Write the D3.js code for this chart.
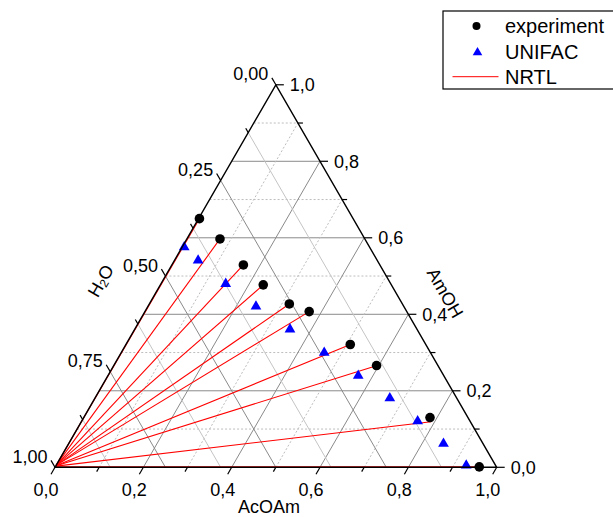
<!DOCTYPE html>
<html>
<head>
<meta charset="utf-8">
<script src="https://cdn.jsdelivr.net/npm/d3@7/dist/d3.min.js"></script>
<style>
  html, body { margin: 0; padding: 0; background: #fff; }
  svg text { font-family: "Liberation Sans", Arial, sans-serif; fill: #000; }
</style>
</head>
<body>
<svg id="chart" width="613" height="517"></svg>
<script>
// ---- data (mole fractions: AcOAm, AmOH; H2O = 1 - AcOAm - AmOH) ----
const expAcOAm = [0.002, 0.075, 0.162, 0.233, 0.317, 0.372, 0.508, 0.595, 0.784, 0.960];
const expAmOH  = [0.650, 0.597, 0.529, 0.477, 0.427, 0.407, 0.321, 0.266, 0.130, 0.001];

const unifacAcOAm = [0.004, 0.053, 0.146, 0.244, 0.351, 0.459, 0.566, 0.667, 0.760, 0.848, 0.928];
const unifacAmOH  = [0.577, 0.542, 0.481, 0.422, 0.362, 0.301, 0.241, 0.182, 0.122, 0.063, 0.006];

// NRTL tie lines: organic phase end and aqueous phase end
const nrtlOrgAcOAm = [0.002, 0.075, 0.162, 0.233, 0.317, 0.372, 0.506, 0.592, 0.792, 0.960];
const nrtlOrgAmOH  = [0.650, 0.597, 0.529, 0.477, 0.427, 0.407, 0.320, 0.264, 0.119, 0.001];
const nrtlAqAcOAm  = [0.000, 0.000, 0.000, 0.000, 0.000, 0.000, 0.000, 0.001, 0.001, 0.001];
const nrtlAqAmOH   = [0.005, 0.005, 0.005, 0.005, 0.005, 0.005, 0.004, 0.004, 0.003, 0.001];

const bottomTicks = [0, 0.2, 0.4, 0.6, 0.8, 1.0];
const bottomTickLabels = ["0,0", "0,2", "0,4", "0,6", "0,8", "1,0"];
const rightTicks = [0, 0.2, 0.4, 0.6, 0.8, 1.0];
const rightTickLabels = ["0,0", "0,2", "0,4", "0,6", "0,8", "1,0"];
const leftTicks = [0, 0.25, 0.5, 0.75, 1.0];
const leftTickLabels = ["0,00", "0,25", "0,50", "0,75", "1,00"];

const legendLabels = ["experiment", "UNIFAC", "NRTL"];

// ---- geometry ----
const x0 = 55, yBase = 467.3, W = 441.7;
const H = W * Math.sqrt(3) / 2;
const sx = d3.scaleLinear().domain([0, 1]).range([0, W]);          // horizontal extent
const sy = d3.scaleLinear().domain([0, 1]).range([yBase, yBase - H]); // AmOH -> y
function P(a, b) { return [x0 + sx(a) + sx(b) / 2, sy(b)]; }   // a = AcOAm, b = AmOH

const svg = d3.select("#chart");
const gGrid = svg.append("g");
const dirs = {
  acoam: [-0.5, Math.sqrt(3) / 2],   // bottom ticks (down-left)
  amoh: [1, 0],                        // right ticks
  h2o: [-0.5, -Math.sqrt(3) / 2]      // left ticks (up-left)
};

function line(g, p1, p2, stroke, width, dash) {
  const l = g.append("line").attr("x1", p1[0]).attr("y1", p1[1]).attr("x2", p2[0]).attr("y2", p2[1])
    .attr("stroke", stroke).attr("stroke-width", width);
  if (dash) l.attr("stroke-dasharray", dash);
  return l;
}

// grid: AmOH constant (horizontal)
d3.range(1, 10).forEach(i => {
  const v = i / 10;
  const major = i % 2 === 0;
  line(gGrid, P(0, v), P(1 - v, v), major ? "#8a8a8a" : "#bdbdbd", 1, major ? null : "2,2");
});
// grid: AcOAm constant (parallel to left edge)
d3.range(1, 10).forEach(i => {
  const v = i / 10;
  const major = i % 2 === 0;
  line(gGrid, P(v, 0), P(v, 1 - v), major ? "#8a8a8a" : "#bdbdbd", 1, major ? null : "2,2");
});
// grid: H2O constant (parallel to right edge)
d3.range(1, 8).forEach(i => {
  const v = i / 8;
  const major = i % 2 === 0;
  line(gGrid, P(0, 1 - v), P(1 - v, 0), major ? "#8a8a8a" : "#c4c4c4", 1, null);
});

// NRTL tie lines
const gData = svg.append("g");
nrtlOrgAcOAm.forEach((a, i) => {
  line(gData, P(nrtlAqAcOAm[i], nrtlAqAmOH[i]), P(a, nrtlOrgAmOH[i]), "#ff0000", 1.1, null);
});

// axes (triangle edges)
const gAxis = svg.append("g");
const A = P(1, 0), B = P(0, 1), C = P(0, 0);
gAxis.append("path").attr("d", `M${C[0]},${C[1]}L${A[0]},${A[1]}L${B[0]},${B[1]}Z`)
  .attr("fill", "none").attr("stroke", "#000").attr("stroke-width", 1.4);

// ticks
function tick(p, dir, len) {
  line(gAxis, p, [p[0] + dir[0] * len, p[1] + dir[1] * len], "#000", 1.2, null);
}
d3.range(0, 11).forEach(i => {
  const v = i / 10;
  tick(P(v, 0), dirs.acoam, i % 2 === 0 ? 8 : 5);      // bottom
  tick(P(1 - v, v), dirs.amoh, i % 2 === 0 ? 8 : 5);   // right
});
d3.range(0, 9).forEach(i => {
  const v = i / 8; // H2O value
  tick(P(0, 1 - v), dirs.h2o, i % 2 === 0 ? 8 : 5);    // left
});

// tick labels
const fs = 18;
bottomTicks.forEach((v, i) => {
  const p = P(v, 0);
  svg.append("text").attr("x", p[0] - 9).attr("y", p[1] + 29)
    .attr("text-anchor", "middle").attr("font-size", fs).text(bottomTickLabels[i]);
});
rightTicks.forEach((v, i) => {
  const p = P(1 - v, v);
  svg.append("text").attr("x", p[0] + 14).attr("y", p[1] + 6.5)
    .attr("text-anchor", "start").attr("font-size", fs).text(rightTickLabels[i]);
});
leftTicks.forEach((v, i) => {
  const p = P(0, 1 - v);
  svg.append("text").attr("x", p[0] - 25).attr("y", p[1] - 4.5)
    .attr("text-anchor", "middle").attr("font-size", fs).text(leftTickLabels[i]);
});

// axis titles
svg.append("text").attr("x", 269).attr("y", 513).attr("text-anchor", "middle")
  .attr("font-size", fs).text("AcOAm");
const h2o = svg.append("text").attr("transform", "translate(101,281) rotate(-60)")
  .attr("text-anchor", "middle").attr("dominant-baseline", "central").attr("font-size", fs);
h2o.append("tspan").text("H");
h2o.append("tspan").attr("font-size", 12).attr("dy", 4).text("2");
h2o.append("tspan").attr("dy", -4).text("O");
svg.append("text").attr("transform", "translate(445,293) rotate(60)")
  .attr("text-anchor", "middle").attr("dominant-baseline", "central")
  .attr("font-size", fs).text("AmOH");

// markers
const tri = d3.symbol().type(d3.symbolTriangle).size(50);
unifacAcOAm.forEach((a, i) => {
  const p = P(a, unifacAmOH[i]);
  gData.append("path").attr("d", tri).attr("transform", `translate(${p[0]},${p[1] + 0.5})`)
    .attr("fill", "#0000ff");
});
expAcOAm.forEach((a, i) => {
  const p = P(a, expAmOH[i]);
  gData.append("circle").attr("cx", p[0]).attr("cy", p[1]).attr("r", 4.8).attr("fill", "#000");
});

// legend
const lg = svg.append("g");
lg.append("rect").attr("x", 443).attr("y", 11).attr("width", 180).attr("height", 78)
  .attr("fill", "#fff").attr("stroke", "#000").attr("stroke-width", 1.2);
lg.append("circle").attr("cx", 476.5).attr("cy", 26).attr("r", 4).attr("fill", "#000");
lg.append("path").attr("d", d3.symbol().type(d3.symbolTriangle).size(40))
  .attr("transform", "translate(477.5,52.5)").attr("fill", "#0000ff");
line(lg, [452.5, 76.7], [498.5, 76.7], "#ff0000", 1, null);
[33, 59, 84].forEach((y, i) => {
  lg.append("text").attr("x", 505).attr("y", y).attr("font-size", 20).text(legendLabels[i]);
});
</script>
</body>
</html>
